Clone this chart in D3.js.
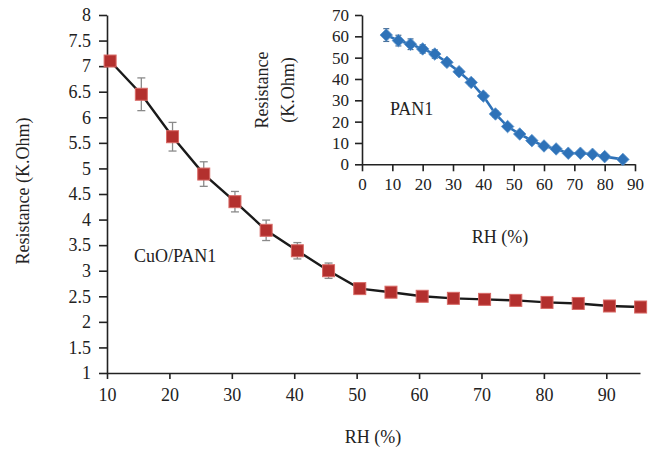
<!DOCTYPE html>
<html>
<head>
<meta charset="utf-8">
<script src="https://cdn.jsdelivr.net/npm/d3@7"></script>
<style>
  body { margin: 0; background: #fff; }
  svg text { font-family: "Liberation Serif", "DejaVu Serif", serif; fill: #222; }
</style>
</head>
<body>
<svg id="chart" width="657" height="460"></svg>
<script>
// CuO/PAN1 sensor: resistance vs relative humidity
const cuoRH = [10.5, 15.5, 20.5, 25.5, 30.5, 35.5, 40.5, 45.5, 50.5, 55.5, 60.5, 65.5, 70.5, 75.5, 80.5, 85.5, 90.5, 95.5];
const cuoRes = [7.1, 6.45, 5.62, 4.89, 4.35, 3.79, 3.39, 3.0, 2.65, 2.58, 2.5, 2.46, 2.44, 2.42, 2.38, 2.36, 2.31, 2.29];
const cuoErr = [0.04, 0.32, 0.28, 0.24, 0.2, 0.2, 0.16, 0.15, 0.08, 0.08, 0.08, 0.06, 0.06, 0.07, 0.07, 0.08, 0.05, 0.05];

// PAN1 sensor (inset)
const panRH = [8, 12, 16, 20, 24, 28, 32, 36, 40, 44, 48, 52, 56, 60, 64, 68, 72, 76, 80, 86];
const panRes = [60.6, 58, 56.3, 54.1, 51.7, 47.8, 43.4, 38.4, 32, 23.6, 17.7, 14.2, 11.1, 8.6, 7.2, 5.2, 5.2, 4.7, 3.6, 2.3];
const panErr = [3, 2.5, 2.5, 2, 2, 1.5, 1.5, 1.5, 1.5, 1.5, 1, 1, 1, 1, 1, 1, 1, 1, 1, 1];

const mainXTicks = [10, 20, 30, 40, 50, 60, 70, 80, 90];
const mainYTicks = [1, 1.5, 2, 2.5, 3, 3.5, 4, 4.5, 5, 5.5, 6, 6.5, 7, 7.5, 8];
const insetXTicks = [0, 10, 20, 30, 40, 50, 60, 70, 80, 90];
const insetYTicks = [0, 10, 20, 30, 40, 50, 60, 70];

const svg = d3.select('#chart');

// ---- main chart ----
const x = d3.scaleLinear().domain([10, 95.4]).range([107, 640]);
const y = d3.scaleLinear().domain([1, 8]).range([373, 15]);

const xAxis = svg.append('g')
  .attr('transform', `translate(0,${y(1)})`)
  .call(d3.axisBottom(x).tickValues(mainXTicks).tickSize(6).tickSizeOuter(0).tickPadding(9));
const yAxis = svg.append('g')
  .attr('transform', `translate(${x(10)},0)`)
  .call(d3.axisLeft(y).tickValues(mainYTicks).tickSize(8).tickSizeOuter(0).tickPadding(8)
    .tickFormat(d3.format('')));
[xAxis, yAxis].forEach(a => {
  a.select('.domain').attr('stroke', '#222').attr('stroke-width', 1.6);
  a.selectAll('.tick line').attr('stroke', '#222').attr('stroke-width', 1.6);
  a.selectAll('.tick text').style('font-size', '18px').attr('fill', '#222');
});

// error bars
const mainBars = svg.append('g').attr('stroke', '#8a8a8a').attr('stroke-width', 1.3);
cuoRH.forEach((h, i) => {
  const cx = x(h), top = y(cuoRes[i] + cuoErr[i]), bot = y(cuoRes[i] - cuoErr[i]);
  mainBars.append('line').attr('x1', cx).attr('x2', cx).attr('y1', top).attr('y2', bot);
  mainBars.append('line').attr('x1', cx - 4).attr('x2', cx + 4).attr('y1', top).attr('y2', top);
  mainBars.append('line').attr('x1', cx - 4).attr('x2', cx + 4).attr('y1', bot).attr('y2', bot);
});

const line = d3.line().x((d, i) => x(cuoRH[i])).y(d => y(d));
svg.append('path')
  .attr('d', line(cuoRes))
  .attr('fill', 'none')
  .attr('stroke', '#1a1a1a')
  .attr('stroke-width', 2.4);

svg.append('g').selectAll('rect')
  .data(cuoRes)
  .join('rect')
  .attr('x', (d, i) => x(cuoRH[i]) - 6)
  .attr('y', d => y(d) - 6)
  .attr('width', 12)
  .attr('height', 12)
  .attr('fill', '#b3302e')
  .attr('stroke', '#d86a66')
  .attr('stroke-width', 1);

svg.append('text')
  .attr('transform', `translate(25,191) rotate(-90)`)
  .attr('text-anchor', 'middle')
  .attr('dominant-baseline', 'middle')
  .style('font-size', '18px')
  .text('Resistance (K.Ohm)');

svg.append('text')
  .attr('x', 373).attr('y', 443)
  .attr('text-anchor', 'middle')
  .style('font-size', '18px')
  .text('RH (%)');

svg.append('text')
  .attr('x', 134).attr('y', 262)
  .style('font-size', '18px')
  .text('CuO/PAN1');

// ---- inset chart ----
const ix = d3.scaleLinear().domain([0, 90]).range([362, 635]);
const iy = d3.scaleLinear().domain([0, 70]).range([164.3, 15]);

const ixAxis = svg.append('g')
  .attr('transform', `translate(0,${iy(0)})`)
  .call(d3.axisBottom(ix).tickValues(insetXTicks).tickSize(7).tickSizeOuter(0).tickPadding(7));
const iyAxis = svg.append('g')
  .attr('transform', `translate(${ix(0)},0)`)
  .call(d3.axisLeft(iy).tickValues(insetYTicks).tickSize(7).tickSizeOuter(0).tickPadding(6));
[ixAxis, iyAxis].forEach(a => {
  a.select('.domain').attr('stroke', '#222').attr('stroke-width', 1.6);
  a.selectAll('.tick line').attr('stroke', '#222').attr('stroke-width', 1.6);
  a.selectAll('.tick text').style('font-size', '17px').attr('fill', '#222');
});

const insetBars = svg.append('g').attr('stroke', '#4a6f96').attr('stroke-width', 1.2);
panRH.forEach((h, i) => {
  const cx = ix(h), top = iy(panRes[i] + panErr[i]), bot = iy(panRes[i] - panErr[i]);
  insetBars.append('line').attr('x1', cx).attr('x2', cx).attr('y1', top).attr('y2', bot);
  insetBars.append('line').attr('x1', cx - 3).attr('x2', cx + 3).attr('y1', top).attr('y2', top);
  insetBars.append('line').attr('x1', cx - 3).attr('x2', cx + 3).attr('y1', bot).attr('y2', bot);
});

const iline = d3.line().x((d, i) => ix(panRH[i])).y(d => iy(d));
svg.append('path')
  .attr('d', iline(panRes))
  .attr('fill', 'none')
  .attr('stroke', '#2e72b8')
  .attr('stroke-width', 2.6);

const diamond = d3.symbol().type(d3.symbolDiamond2).size(100);
svg.append('g').selectAll('path')
  .data(panRes)
  .join('path')
  .attr('d', diamond)
  .attr('transform', (d, i) => `translate(${ix(panRH[i])},${iy(d)})`)
  .attr('fill', '#2e72b8')
  .attr('stroke', '#5a93cc')
  .attr('stroke-width', 0.8);

const insetLabel = svg.append('text')
  .attr('transform', `translate(271,90) rotate(-90)`)
  .attr('text-anchor', 'middle')
  .style('font-size', '18px');
insetLabel.append('tspan').attr('x', 0).attr('dy', '-0.15em').text('Resistance');
insetLabel.append('tspan').attr('x', 0).attr('dy', '1.45em').text('(K.Ohm)');

svg.append('text')
  .attr('x', 500).attr('y', 243)
  .attr('text-anchor', 'middle')
  .style('font-size', '18px')
  .text('RH (%)');

svg.append('text')
  .attr('x', 390).attr('y', 115)
  .style('font-size', '18px')
  .text('PAN1');
</script>
</body>
</html>
